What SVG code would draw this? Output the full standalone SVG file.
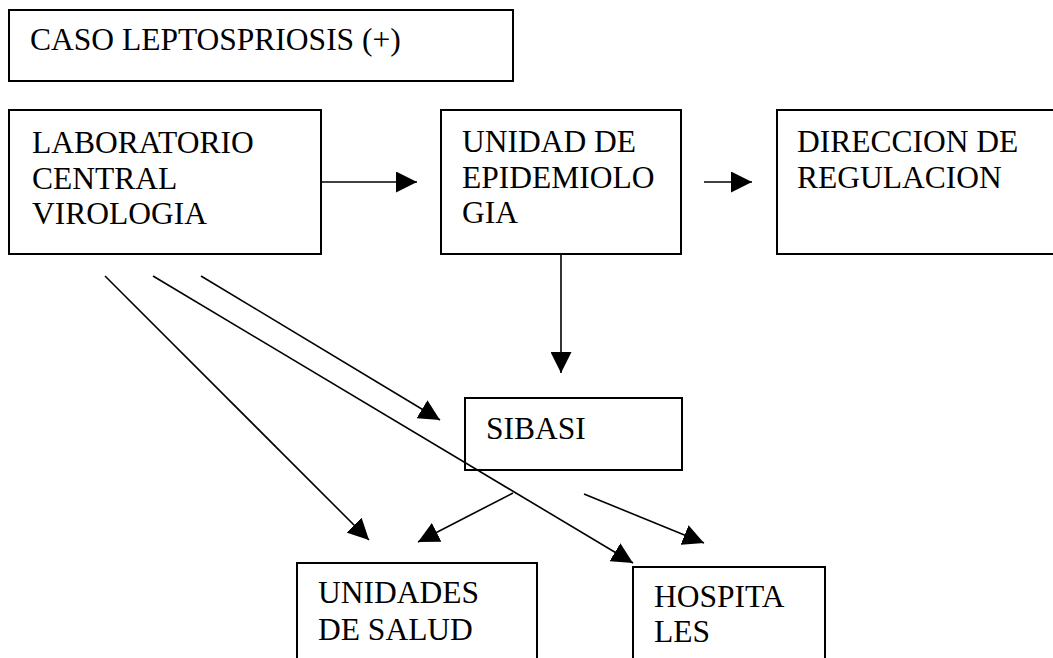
<svg xmlns="http://www.w3.org/2000/svg" width="1053" height="658" viewBox="0 0 1053 658">
<style>
.box{fill:#fff;stroke:#000;stroke-width:2}
text{font-family:'Liberation Serif','Times New Roman',serif;font-size:31.5px;fill:#000}
.c{stroke:#000;stroke-width:1.6;fill:none;marker-end:url(#ah)}
</style>
<defs>
<marker id="ah" markerUnits="userSpaceOnUse" markerWidth="21" markerHeight="21" refX="20" refY="10" orient="auto" viewBox="0 0 20 20">
<path d="M0,0 L20,10 L0,20 z" fill="#000"/>
</marker>
</defs>
<rect width="1053" height="658" fill="#fff"/>
<g id="caso">
<rect class="box" x="9" y="10" width="504" height="71"/>
<text x="30" y="50">CASO LEPTOSPRIOSIS (+)</text>
</g>
<g id="laboratorio">
<rect class="box" x="9" y="110" width="312" height="144"/>
<text x="32" y="153">LABORATORIO</text>
<text x="32" y="188.5">CENTRAL</text>
<text x="32" y="224">VIROLOGIA</text>
</g>
<g id="epidemiologia">
<rect class="box" x="441" y="110" width="240" height="144"/>
<text x="462" y="152">UNIDAD DE</text>
<text x="462" y="187.5">EPIDEMIOLO</text>
<text x="462" y="223">GIA</text>
</g>
<g id="direccion">
<rect class="box" x="777" y="110" width="290" height="144"/>
<text x="797" y="152">DIRECCION DE</text>
<text x="797" y="188">REGULACION</text>
</g>
<g id="sibasi">
<rect class="box" x="465" y="398" width="217" height="72"/>
<text x="486" y="439">SIBASI</text>
</g>
<g id="unidades">
<rect class="box" x="297" y="563" width="240" height="110"/>
<text x="318" y="603">UNIDADES</text>
<text x="318" y="640">DE SALUD</text>
</g>
<g id="hospitales">
<rect class="box" x="633" y="567" width="192" height="110"/>
<text x="654" y="607">HOSPITA</text>
<text x="654" y="642">LES</text>
</g>
<g id="connectors">
<line class="c" x1="321" y1="182" x2="417" y2="182"/>
<line class="c" x1="704" y1="182" x2="752" y2="182"/>
<line class="c" x1="561" y1="254" x2="561" y2="373"/>
<line class="c" x1="201" y1="276" x2="440" y2="420"/>
<line class="c" x1="153" y1="276" x2="633" y2="563"/>
<line class="c" x1="105" y1="276" x2="369" y2="540"/>
<line class="c" x1="513" y1="493" x2="418" y2="542"/>
<line class="c" x1="584" y1="494" x2="704" y2="543"/>
</g>
</svg>
